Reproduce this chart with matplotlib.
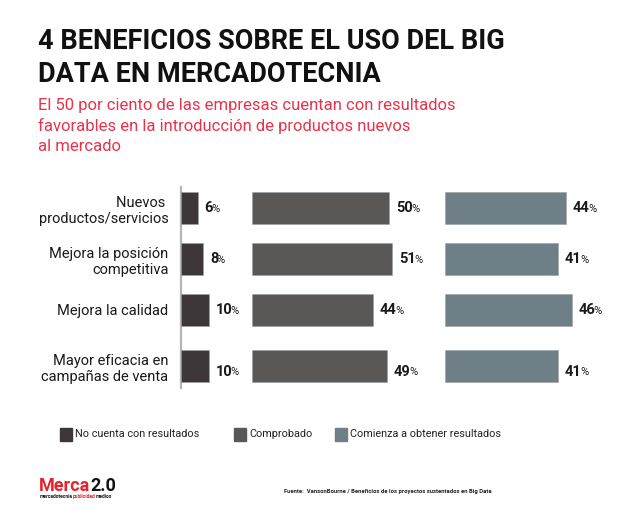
import matplotlib
matplotlib.use("Agg")
import matplotlib.pyplot as plt
from matplotlib.patches import Rectangle
from matplotlib.text import Annotation

plt.rcParams["font.family"] = ["Roboto", "DejaVu Sans"]

categories = [
    "Nuevos \nproductos/servicios",
    "Mejora la posición\ncompetitiva",
    "Mejora la calidad",
    "Mayor eficacia en\ncampañas de venta",
]
no_cuenta = [6, 8, 10, 10]
comprobado = [50, 51, 44, 49]
comienza = [44, 41, 46, 41]

series_names = ["No cuenta con resultados", "Comprobado", "Comienza a obtener resultados"]
colors = ["#3d3739", "#595856", "#6e7f87"]

title = "4 BENEFICIOS SOBRE EL USO DEL BIG\nDATA EN MERCADOTECNIA"
subtitle = ("El 50 por ciento de las empresas cuentan con resultados\n"
            "favorables en la introducción de productos nuevos\n"
            "al mercado")
source = "Fuente:  VansonBourne / Beneficios de los proyectos sustentados en Big Data"

W, H = 633, 515
fig = plt.figure(figsize=(W / 100, H / 100), dpi=100)
fig.patch.set_facecolor("white")


def chain(prev, text, dx=0, **kw):
    # place a text right after another one, on the same line
    a = Annotation(text, xy=(1, 0), xycoords=prev, xytext=(dx, 0),
                   textcoords="offset pixels", ha="left", va="bottom", **kw)
    a.set_figure(fig)
    fig.texts.append(a)
    return a


# layout (pixels)
px_per_pct = 2.75
row_pos = [0, 1, 2, 3.1]
row_px = 51
top_px, bottom_px, first_center = 185, 390, 208
groups = [(181, 25, no_cuenta), (252, 70, comprobado), (445, 65, comienza)]

axes = []
for (left_px, xmax, vals), col in zip(groups, colors):
    ax = fig.add_axes([left_px / W, 1 - bottom_px / H,
                       xmax * px_per_pct / W, (bottom_px - top_px) / H])
    ax.set_xlim(0, xmax)
    ax.set_ylim((bottom_px - first_center) / row_px, (top_px - first_center) / row_px)
    ax.barh(row_pos, vals, height=0.63, color=col, edgecolor="#9aa0a3", linewidth=0.4)
    for y, v in zip(row_pos, vals):
        dy = -4 if y > 3 else 0
        t = ax.annotate(str(v), xy=(v, y), xytext=(5, dy), textcoords="offset points",
                        ha="left", va="center", fontsize=10.5, fontweight="bold",
                        color="#1a1a1a")
        ax.annotate("%", xy=(1, 0.1), xycoords=t, xytext=(-1.5, 0),
                    textcoords="offset pixels", ha="left", va="bottom",
                    fontsize=8, color="#1a1a1a")
    for s in ax.spines.values():
        s.set_visible(False)
    ax.set_xticks([])
    ax.set_yticks([])
    axes.append(ax)

ax1 = axes[0]
ax1.plot([0, 0], [-0.42, 3.53], color="#b5b5b5", lw=1.6, clip_on=False, zorder=0)
ax1.set_yticks(row_pos)
ax1.set_yticklabels(categories, fontsize=10.5, color="#1a1a1a", linespacing=1.2)
ax1.tick_params(axis="y", length=0, pad=9)

fig.text(38 / W, 1 - 28 / H, title, ha="left", va="top", fontsize=19.5,
         fontweight="bold", color="#111111", linespacing=1.3)
fig.text(38 / W, 1 - 98 / H, subtitle, ha="left", va="top", fontsize=12,
         color="#e8334a", linespacing=1.38)

# legend
leg_x = [60, 234, 335]
for x, name, col in zip(leg_x, series_names, colors):
    fig.patches.append(Rectangle((x / W, 1 - 441 / H), 12 / W, 13 / H,
                                 transform=fig.transFigure, color=col))
    fig.text((x + 15) / W, 1 - 434 / H, name, ha="left", va="center",
             fontsize=7.8, color="#222222")

# logo
t = fig.text(39 / W, 1 - 491 / H, "Merca", ha="left", va="baseline", fontsize=13,
             fontweight="bold", color="#e3242b")
chain(t, "2.0", fontsize=13, fontweight="bold", color="#111111")
t2 = fig.text(40 / W, 1 - 498 / H, "mercadotecnia", ha="left", va="baseline",
              fontsize=3.6, fontweight="bold", color="#222222")
t3 = chain(t2, "publicidad", fontsize=3.6, fontweight="bold", color="#e3242b")
chain(t3, "medios", fontsize=3.6, fontweight="bold", color="#222222")

fig.text(492 / W, 1 - 491 / H, source, ha="right", va="center", fontsize=4.2,
         fontweight="bold", color="#222222")

fig.savefig("out.png", dpi=100, facecolor="white")
